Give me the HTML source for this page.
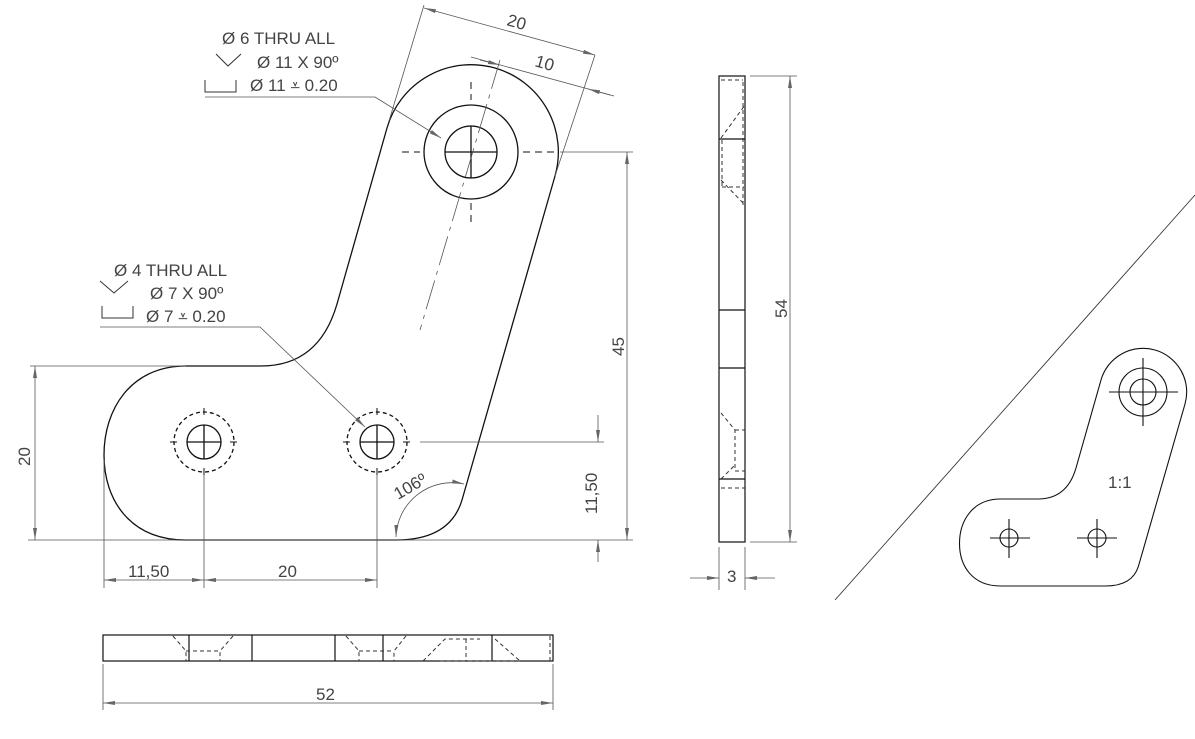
<!DOCTYPE html>
<html><head><meta charset="utf-8"><style>
html,body{margin:0;padding:0;background:#fff}
svg{display:block}
text{font-family:"Liberation Sans",sans-serif;fill:#444;font-size:17px}
</style></head><body>
<svg width="1195" height="739" viewBox="0 0 1195 739" xmlns="http://www.w3.org/2000/svg">
<defs>
<marker id="a" viewBox="0 0 12 6" refX="12" refY="3" markerWidth="12" markerHeight="6" orient="auto-start-reverse" markerUnits="userSpaceOnUse"><path d="M0,1 L12,3 L0,5z" fill="#666"/></marker>
<path id="shape" d="M186,366 C130,366 104,410 104,455 C104,500 130,540 186,540 L396,540 Q450,540 462,500 L555,176 A87,87 0 0 0 387,128 L337,304 Q319,366 261,366 Z"/>
</defs>
<g fill="none" stroke="#111" stroke-width="1.3">
<use href="#shape"/>
<circle cx="471" cy="152" r="47"/><circle cx="471" cy="152" r="26"/>
<circle cx="204" cy="442" r="17"/><circle cx="377" cy="442" r="17"/>
<circle cx="204" cy="442" r="30" stroke-dasharray="4,3"/><circle cx="377" cy="442" r="30" stroke-dasharray="4,3"/>
<path d="M445,152H497M471,126V178M187,442H221M204,425V459M360,442H394M377,425V459"/>
</g>
<g fill="none" stroke="#111" stroke-width="1" stroke-dasharray="7,5">
<path d="M402,152H420M523,152H556M471,82V100M471,203V222M170,442H178M230,442H238M343,442H351M403,442H411M204,408V416M204,468V476M377,408V416M377,468V476"/>
</g>
<g fill="none" stroke="#555" stroke-width="0.8">
<path d="M500,60 L420,330" stroke-dasharray="30,6,4,6"/>
<path d="M424,5 L389,121M595,55 L555,176M471,57 L614,96"/>
<path d="M424,8 L595,55" marker-start="url(#a)" marker-end="url(#a)"/>
<path d="M480,60 L500,65" marker-end="url(#a)"/><path d="M610,95 L588,89" marker-end="url(#a)"/>
<path d="M560,152H633M28,540H633M30,366H186M420,442H604"/>
<path d="M627,152V540" marker-start="url(#a)" marker-end="url(#a)"/>
<path d="M598,415V442" marker-end="url(#a)"/><path d="M598,562V540" marker-end="url(#a)"/>
<path d="M35,366V540" marker-start="url(#a)" marker-end="url(#a)"/>
<path d="M104,460V588M204,475V588M377,475V588"/>
<path d="M104,580H204" marker-start="url(#a)" marker-end="url(#a)"/><path d="M204,580H377" marker-start="url(#a)" marker-end="url(#a)"/>
<path d="M396,537 A56,56 0 0 1 464,484" marker-start="url(#a)" marker-end="url(#a)"/>
<path d="M205,97H375L441,138" marker-end="url(#a)"/>
<path d="M100,327H260L365,427" marker-end="url(#a)"/>
</g>
<g fill="none" stroke="#333" stroke-width="1">
<path d="M216,54l12,12l13,-12M100,281l14,12l14,-12"/>
<path d="M205,80V92H236V80M102,306V318H133V306"/>
</g>
<text x="222" y="44" font-size="18">Ø 6 THRU ALL</text>
<text x="257" y="68" font-size="18">Ø 11 X 90º</text>
<text x="250" y="91" font-size="18">Ø 11 ⩡ 0.20</text>
<text x="114" y="276" font-size="18">Ø 4 THRU ALL</text>
<text x="150" y="299" font-size="18">Ø 7 X 90º</text>
<text x="146" y="322" font-size="18">Ø 7 ⩡ 0.20</text>
<text transform="translate(506,25) rotate(16)" font-size="18">20</text>
<text transform="translate(534,66) rotate(16)" font-size="18">10</text>
<text transform="translate(624,356) rotate(-90)" font-size="18">45</text>
<text transform="translate(597,514) rotate(-90)" font-size="18">11,50</text>
<text transform="translate(30,466) rotate(-90)" font-size="18">20</text>
<text x="128" y="577" font-size="18">11,50</text>
<text x="278" y="577" font-size="18">20</text>
<text transform="translate(398,500) rotate(-30)" font-size="18">106º</text>
<!-- side view -->
<g fill="none" stroke="#111" stroke-width="1.2">
<rect x="719" y="76" width="26" height="466"/>
<path d="M719,139H745M719,310H745M719,368H745M719,479H745"/>
</g>
<g fill="none" stroke="#333" stroke-width="1" stroke-dasharray="4,3">
<path d="M721,80H743M722,187H744M721,138L745,105M721,180L745,205M722,186V138M743,205V80M721,413L735,430V471M721,479L735,465M721,488H745M735,430H745M735,471H745"/>
</g>
<g fill="none" stroke="#555" stroke-width="0.8">
<path d="M750,76H797M750,542H797"/>
<path d="M790,76V542" marker-start="url(#a)" marker-end="url(#a)"/>
<path d="M719,547V590M745,547V590"/>
<path d="M690,578H719" marker-end="url(#a)"/><path d="M775,578H745" marker-end="url(#a)"/>
</g>
<text transform="translate(787,318) rotate(-90)" font-size="18">54</text>
<text x="727" y="582" font-size="18">3</text>
<!-- bottom view -->
<g fill="none" stroke="#111" stroke-width="1.2">
<rect x="103" y="635" width="450" height="26"/>
<path d="M189,635V661M252,635V661M335,635V661M383,635V661M492,635V661"/>
</g>
<g fill="none" stroke="#333" stroke-width="1" stroke-dasharray="4,3">
<path d="M173,636L186,651V661M233,636L220,651V661M186,651H220M346,636L359,651V661M406,636L394,651V661M359,651H394M423,661L445,639H480M440,661H520M466,639V661M495,639L520,661M550,636V661"/>
</g>
<g fill="none" stroke="#555" stroke-width="0.8">
<path d="M103,664V710M553,664V710"/>
<path d="M103,703H553" marker-start="url(#a)" marker-end="url(#a)"/>
</g>
<text x="316" y="700" font-size="18">52</text>
<!-- iso view -->
<path d="M835,600 L1195,195" stroke="#333" stroke-width="0.9" fill="none"/>
<g fill="none" stroke="#111" stroke-width="1.1">
<use href="#shape" transform="translate(907.5,316) scale(0.5)" stroke-width="2.2"/>
<circle cx="1143" cy="392" r="24"/><circle cx="1143" cy="392" r="13"/>
<circle cx="1009" cy="538" r="9"/><circle cx="1097" cy="538" r="9"/>
<path d="M1109,392H1178M1143,358V426M990,538H1030M1009,519V558M1077,538H1117M1097,519V558"/>
</g>
<text x="1108" y="488" font-size="15">1:1</text>
</svg>
</body></html>
